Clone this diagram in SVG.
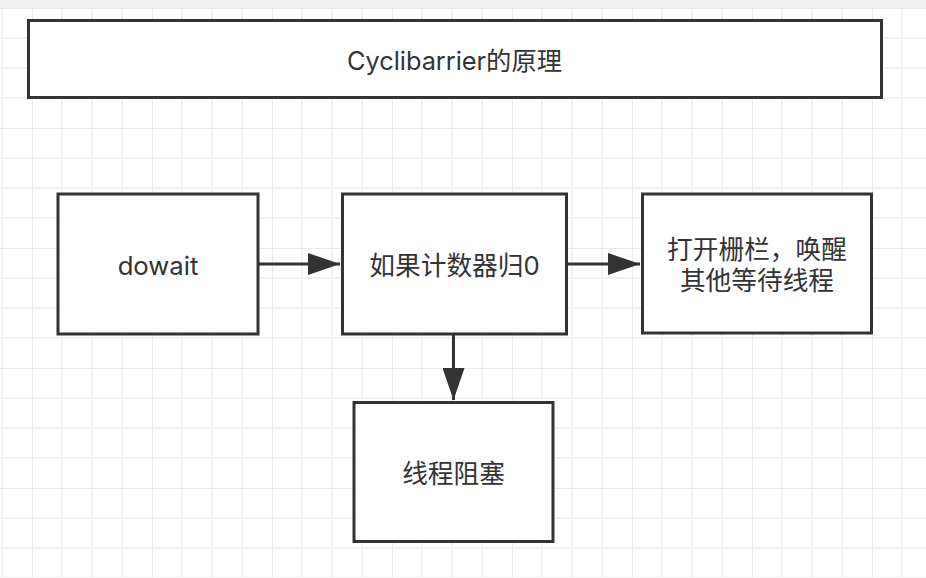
<svg xmlns="http://www.w3.org/2000/svg" width="926" height="578" viewBox="0 0 926 578">
<style>
.box{fill:#fff;stroke:#333;stroke-width:3}
.txt{font-family:Inter,"Noto Sans CJK SC",sans-serif;font-size:25.7px;fill:#333;text-anchor:middle;dominant-baseline:central}
.ttl{font-size:25.3px}
.edge{stroke:#333;stroke-width:3;fill:none}
.minor{stroke:#f1f1f1;stroke-width:2}
.major{stroke:#e9e9e9;stroke-width:2}
</style>
<defs>
<pattern id="grid" patternUnits="userSpaceOnUse" x="32" y="8" width="120" height="120">
<path class="minor" d="M30 0V120M60 0V120M90 0V120M0 30H120M0 60H120M0 90H120"/>
<path class="major" d="M0 0V120M0 0H120"/>
</pattern>
<marker id="arr" markerUnits="userSpaceOnUse" markerWidth="34" markerHeight="22" refX="32" refY="11" orient="auto">
<path d="M0 0L32 11L0 22Z" fill="#333"/>
</marker>
</defs>
<rect width="926" height="578" fill="#fff"/>
<rect width="926" height="578" fill="url(#grid)"/>
<rect width="926" height="8" fill="#f0f0f0"/>
<g id="title">
<rect class="box" x="28.5" y="20.5" width="853" height="77"/>
<text class="txt ttl" x="454.5" y="60">Cyclibarrier的原理</text>
</g>
<g id="connectors">
<path class="edge" d="M259 264H340" marker-end="url(#arr)"/>
<path class="edge" d="M568 264H640" marker-end="url(#arr)"/>
<path class="edge" d="M453.5 335V400" marker-end="url(#arr)"/>
</g>
<g id="dowait">
<rect class="box" x="58" y="194" width="200" height="140"/>
<text class="txt" x="158" y="265">dowait</text>
</g>
<g id="counter">
<rect class="box" x="342.5" y="194" width="224" height="140"/>
<text class="txt" x="454.5" y="265">如果计数器归0</text>
</g>
<g id="open">
<rect class="box" x="642.5" y="194" width="229" height="139"/>
<text class="txt" x="757" y="249">打开栅栏，唤醒</text>
<text class="txt" x="757" y="280">其他等待线程</text>
</g>
<g id="block">
<rect class="box" x="354" y="402.5" width="199" height="139"/>
<text class="txt" x="453.5" y="473">线程阻塞</text>
</g>
</svg>
